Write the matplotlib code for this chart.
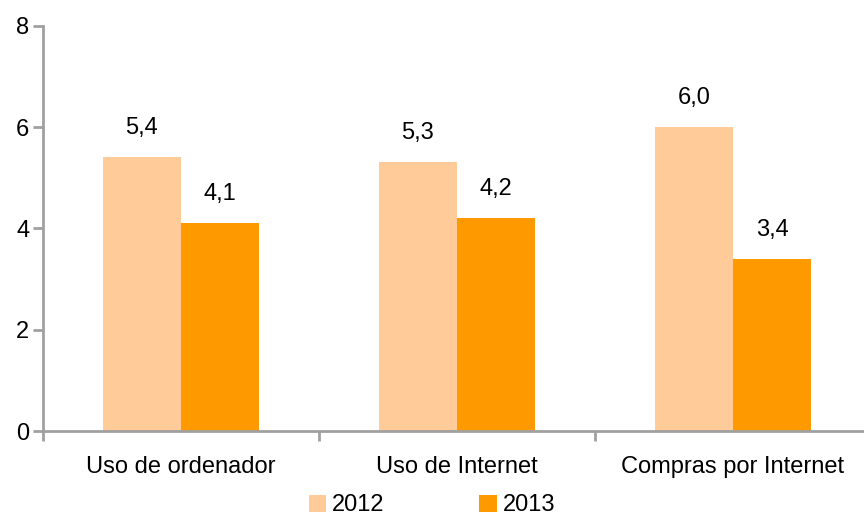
import matplotlib.pyplot as plt
import numpy as np

plt.rcParams['font.family'] = ['Liberation Sans', 'DejaVu Sans']

categories = ['Uso de ordenador', 'Uso de Internet', 'Compras por Internet']
years = ['2012', '2013']
vals_2012 = [5.4, 5.3, 6.0]
vals_2013 = [4.1, 4.2, 3.4]
colors = ['#FFCC99', '#FF9900']

fig = plt.figure(figsize=(8.64, 5.22), dpi=100)
ax = fig.add_axes([0.0498, 0.1743, 0.9502, 0.7765])

x = np.arange(len(categories)) + 0.5
w = 0.283
for off, vals, col, lab in [(-w / 2, vals_2012, colors[0], years[0]),
                            (w / 2, vals_2013, colors[1], years[1])]:
    bars = ax.bar(x + off, vals, width=w, color=col, label=lab)
    for b, v in zip(bars, vals):
        ax.annotate(f'{v:.1f}'.replace('.', ','), (b.get_x() + b.get_width() / 2, v),
                    xytext=(0, 13), textcoords='offset points',
                    ha='center', va='bottom', fontsize=17)

ax.set_xlim(0, 2.975)
ax.set_ylim(0, 8)
ax.set_yticks([0, 2, 4, 6, 8])
ax.set_xticks([0, 1, 2])
ax.set_xticklabels([])
ax.set_xticks(x, minor=True)
ax.set_xticklabels(categories, minor=True, fontsize=17)
ax.tick_params(axis='x', which='minor', length=0, pad=18)
ax.tick_params(axis='x', which='major', length=7, width=2, color='#A0A0A0')
ax.tick_params(axis='y', length=7, width=2, color='#A0A0A0', labelsize=17, pad=3)

for s in ['top', 'right']:
    ax.spines[s].set_visible(False)
for s in ['left', 'bottom']:
    ax.spines[s].set_color('#A0A0A0')
    ax.spines[s].set_linewidth(2)

fig.legend(loc='lower center', bbox_to_anchor=(0.5, -0.03), ncol=2, frameon=False,
           fontsize=17, handlelength=0.75, handleheight=0.75, handletextpad=0.25,
           columnspacing=4.0)

fig.savefig('out.png', dpi=100)
